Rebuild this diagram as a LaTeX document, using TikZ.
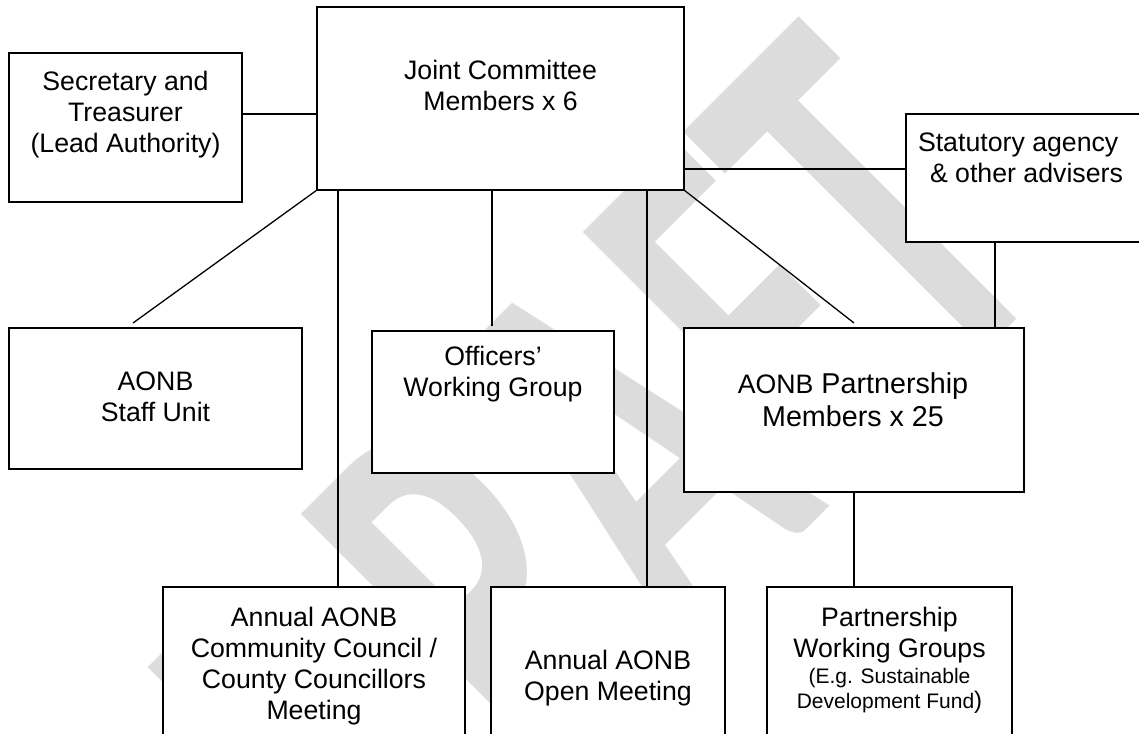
\documentclass[tikz,border=0pt]{standalone}
\usepackage{fontspec}
\setmainfont{Liberation Sans}
\newfontfamily\wmfont{Carlito}
\usepackage{graphicx}
\definecolor{wmgray}{RGB}{220,220,220}
\newcommand\mlc[1]{\vtop{\halign{\hfil##\hfil\cr#1\crcr}}}
\newcommand\mll[1]{\vtop{\halign{##\hfil\cr#1\crcr}}}
\newcommand\mainsz{\fontsize{26.7}{31}\selectfont}
\begin{document}
\begin{tikzpicture}[x=1pt,y=-1pt,
  box/.style={draw=black, line width=1.3pt, fill=white, rectangle, inner sep=0pt, outer sep=0pt, anchor=north west},
  conn/.style={draw=black, line width=1.3pt},
  txt/.style={inner sep=0pt, outer sep=0pt, anchor=base, font=\mainsz}]
\useasboundingbox (0,0) rectangle (1139,733);
% watermark
\node[rotate=45, inner sep=0pt, text=wmgray] (wm) at (598,478)
  {\scalebox{0.935}[1.55]{\fontsize{366}{366}\selectfont\wmfont\bfseries DRAFT}};
% boxes
\node[box, minimum width=233pt, minimum height=149pt] (sec) at (9,53) {};
\node[box, minimum width=367pt, minimum height=183pt] (jc) at (317,7) {};
\node[box, minimum width=239pt, minimum height=128pt] (stat) at (906,114) {};
\node[box, minimum width=293pt, minimum height=141pt] (su) at (9,328) {};
\node[box, minimum width=242pt, minimum height=142pt] (ow) at (372,331) {};
\node[box, minimum width=340pt, minimum height=164pt] (ap) at (684,328) {};
\node[box, minimum width=302pt, minimum height=158pt] (cc) at (163,587) {};
\node[box, minimum width=234pt, minimum height=158pt] (om) at (491,587) {};
\node[box, minimum width=245pt, minimum height=158pt] (pwg) at (767,587) {};
% connectors
\coordinate (ySec) at (0,114);
\coordinate (yStat) at (0,169);
\coordinate (suT) at (133,323);
\coordinate (xA) at (338,0);
\coordinate (owT) at (492,326);
\coordinate (xB) at (492,0);
\coordinate (xC) at (647,0);
\coordinate (apT) at (854,323);
\coordinate (xD) at (995,0);
\draw[conn] (sec.east |- ySec) -- (jc.west |- ySec);
\draw[conn] (jc.east |- yStat) -- (stat.west |- yStat);
\draw[conn] (jc.south west) -- (suT);
\draw[conn] (jc.south -| xA) -- (cc.north -| xA);
\draw[conn] (jc.south -| xB) -- (owT);
\draw[conn] (jc.south -| xC) -- (om.north -| xC);
\draw[conn] (jc.south east) -- (apT);
\draw[conn] (stat.south -| xD) -- (ap.north -| xD);
\draw[conn] (ap.south) -- (ap.south |- pwg.north);
% texts
\node[txt] (tsec) at (125.5,91) {\mlc{Secretary and\cr Treasurer\cr (Lead Authority)}};
\node[txt] (tjc) at (500.5,80) {\mlc{Joint Committee\cr Members x 6}};
\node[txt, anchor=base west] (tstat) at (918,151) {\mll{Statutory agency\cr\hspace*{12pt}\& other advisers}};
\node[txt] (tsu) at (155.5,390) {\mlc{AONB\cr Staff Unit}};
\node[txt, font=\fontsize{26.7}{31.5}\selectfont] (tow) at (493,365) {\mlc{Officers’\cr Working Group}};
\node[txt, font=\fontsize{28.7}{33}\selectfont] (tap) at (853,393) {\mlc{{\fontsize{26.7}{31}\selectfont AONB} Partnership\cr Members x 25}};
\node[txt] (tcc) at (314,626) {\mlc{Annual AONB\cr Community Council /\cr County Councillors\cr Meeting}};
\node[txt] (tom) at (608,669) {\mlc{Annual AONB\cr Open Meeting}};
\node[txt] (tpwg) at (889.5,626) {\mlc{Partnership\cr Working Groups}};
\node[txt, font=\fontsize{21}{25}\selectfont] (tpwg2) at (889.5,683) {\mlc{(E.g. Sustainable\cr Development Fund{\fontsize{24}{28}\selectfont)}}};
\end{tikzpicture}
\end{document}
